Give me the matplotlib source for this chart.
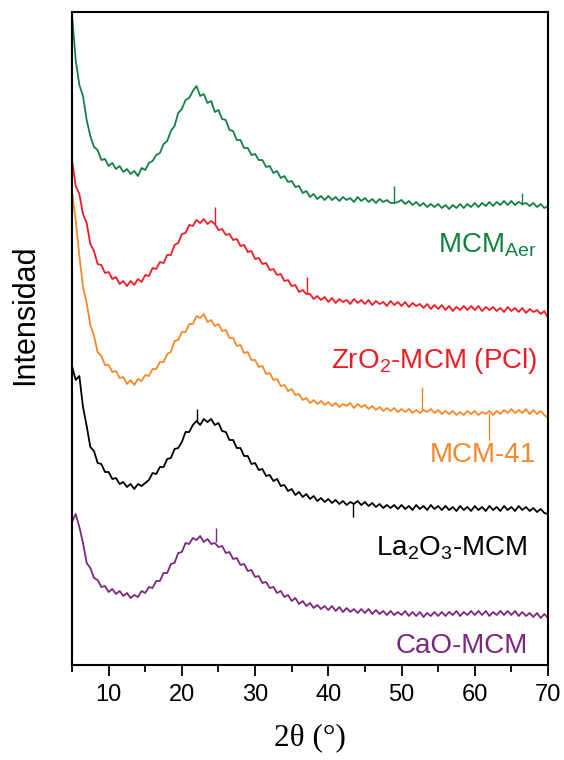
import numpy as np
from matplotlib import pyplot as plt

plt.rcParams['font.family'] = ['Liberation Sans', 'DejaVu Sans']
plt.rcParams['mathtext.fontset'] = 'custom'
plt.rcParams['mathtext.rm'] = 'Liberation Sans'

# 2theta grid, 0.5 deg steps from 5 to 70
twoTheta = np.arange(5, 70.01, 0.5)

# intensities (arbitrary units, curves already stacked)
mcmAer = [651, 605, 580, 569, 545, 529, 518, 515, 505, 506,
          499, 502, 496, 499, 493, 496, 491, 494, 489, 497,
          495, 502, 504, 510, 512, 521, 524, 534, 539, 552,
          556, 565, 567, 574, 579, 569, 571, 562, 564, 553,
          555, 546, 545, 535, 534, 525, 525, 517, 517, 510,
          511, 505, 505, 498, 499, 492, 494, 487, 489, 483,
          484, 478, 479, 472, 474, 468, 471, 466, 469, 465,
          469, 465, 468, 464, 468, 465, 467, 463, 468, 464,
          467, 463, 466, 462, 466, 463, 465, 462, 462, 463,
          465, 461, 464, 460, 463, 459, 462, 458, 461, 458,
          461, 457, 460, 456, 460, 457, 461, 457, 461, 458,
          462, 458, 462, 459, 463, 459, 463, 460, 464, 460,
          464, 460, 463, 461, 462, 459, 462, 458, 461, 457,
          459]

zrMcm = [505, 479, 471, 451, 442, 421, 414, 401, 400, 392,
         393, 386, 388, 381, 384, 379, 384, 380, 386, 383,
         390, 389, 397, 396, 403, 402, 410, 410, 420, 422,
         431, 432, 440, 439, 445, 442, 446, 441, 444, 441,
         435, 436, 430, 431, 425, 426, 419, 420, 413, 414,
         406, 407, 401, 402, 395, 396, 390, 391, 384, 385,
         379, 380, 373, 375, 371, 371, 366, 369, 365, 368,
         363, 367, 362, 366, 363, 365, 361, 366, 362, 365,
         361, 365, 360, 364, 361, 363, 359, 364, 360, 363,
         359, 363, 358, 362, 359, 361, 357, 361, 356, 360,
         356, 360, 355, 359, 354, 358, 355, 359, 355, 359,
         355, 359, 354, 358, 355, 358, 354, 357, 353, 358,
         354, 357, 353, 357, 352, 356, 353, 355, 351, 354,
         347]

mcm41 = [473, 445, 409, 378, 362, 340, 329, 313, 309, 300,
         300, 293, 294, 287, 288, 281, 285, 280, 286, 284,
         290, 289, 296, 296, 303, 303, 311, 313, 324, 325,
         333, 333, 341, 341, 349, 347, 351, 343, 345, 339,
         341, 334, 335, 327, 327, 319, 320, 312, 313, 305,
         305, 298, 299, 291, 292, 285, 286, 279, 280, 274,
         276, 270, 271, 265, 267, 262, 265, 261, 264, 260,
         263, 259, 262, 258, 261, 259, 262, 257, 261, 258,
         260, 256, 259, 255, 258, 254, 257, 254, 257, 253,
         256, 253, 256, 252, 255, 252, 255, 253, 256, 252,
         255, 251, 254, 251, 254, 250, 253, 250, 254, 251,
         254, 250, 253, 251, 254, 250, 254, 251, 255, 252,
         256, 252, 255, 252, 256, 251, 255, 251, 254, 250,
         247]

laMcm = [299, 285, 289, 258, 239, 218, 214, 202, 201, 193,
         193, 186, 187, 181, 183, 178, 181, 176, 181, 179,
         182, 185, 192, 191, 198, 198, 206, 207, 216, 217,
         223, 233, 233, 240, 244, 240, 246, 243, 246, 240,
         242, 234, 233, 225, 225, 217, 217, 209, 209, 201,
         202, 195, 196, 189, 190, 184, 186, 179, 180, 174,
         176, 170, 173, 168, 171, 166, 169, 164, 167, 163,
         166, 162, 165, 161, 164, 160, 163, 161, 164, 160,
         163, 159, 162, 158, 161, 157, 160, 157, 160, 156,
         160, 156, 159, 155, 160, 156, 159, 155, 160, 156,
         159, 155, 159, 155, 158, 154, 159, 155, 158, 154,
         159, 155, 158, 154, 159, 155, 158, 154, 159, 155,
         158, 154, 159, 155, 158, 154, 157, 153, 156, 152,
         151]

caoMcm = [143, 151, 138, 122, 102, 97, 87, 85, 78, 79,
          73, 76, 71, 74, 69, 72, 67, 70, 68, 74,
          72, 78, 77, 84, 84, 92, 92, 101, 102, 112,
          113, 122, 121, 127, 125, 129, 123, 126, 121, 122,
          118, 119, 112, 113, 106, 107, 100, 101, 94, 95,
          88, 89, 82, 83, 77, 78, 72, 74, 68, 70,
          64, 67, 61, 64, 59, 62, 57, 60, 56, 59,
          55, 59, 54, 58, 53, 57, 53, 56, 52, 56,
          52, 56, 51, 55, 51, 54, 50, 54, 50, 53,
          50, 54, 49, 53, 49, 53, 48, 52, 49, 53,
          49, 53, 49, 53, 50, 54, 49, 53, 50, 54,
          50, 54, 50, 54, 49, 53, 50, 54, 50, 54,
          50, 54, 49, 53, 49, 52, 48, 52, 47, 51,
          47]

# single-channel spikes: which curve, position, from, to
spikeCurve = [0, 0, 1, 1, 2, 2, 3, 3, 4]
spikeTheta = [49.0, 66.5, 24.5, 37.1, 52.8, 62.0, 22.0, 43.4, 24.7]
spikeFrom = [463, 460, 441, 372, 255, 252, 243, 162, 123]
spikeTo = [479, 472, 458, 388, 278, 225, 256, 148, 137]

series = [mcmAer, zrMcm, mcm41, laMcm, caoMcm]
colors = ['#138043', '#ee1c25', '#f7882a', '#000000', '#7b2680']
labels = [r'MCM$_{\mathregular{Aer}}$', r'ZrO$_{\mathregular{2}}$-MCM (PCl)', 'MCM-41',
          r'La$_{\mathregular{2}}$O$_{\mathregular{3}}$-MCM', 'CaO-MCM']
labelPos = [(68.5, 413), (68.5, 297), (68.3, 203), (67.2, 110), (67.3, 12)]

fig = plt.figure(figsize=(5.64, 7.60), dpi=100)
ax = fig.add_axes([0.1277, 0.125, 0.8439, 0.8592])

for vals, col in zip(series, colors):
    assert len(vals) == len(twoTheta)
    ax.plot(twoTheta, vals, color=col, lw=1.3)

for c, t, y0, y1 in zip(spikeCurve, spikeTheta, spikeFrom, spikeTo):
    ax.vlines(t, y0, y1, color=colors[c], lw=1.0)

for lab, (xt, yt), col in zip(labels, labelPos, colors):
    ax.text(xt, yt, lab, color=col, fontsize=20, ha='right', va='baseline')

ax.set_xlim(5, 70)
ax.set_ylim(0, 653)
ax.set_xticks([10, 20, 30, 40, 50, 60, 70])
ax.set_xticks([5, 15, 25, 35, 45, 55, 65], minor=True)
ax.set_yticks([])
ax.tick_params(axis='x', which='major', direction='out', length=8, width=1.3, labelsize=17, pad=6)
ax.tick_params(axis='x', which='minor', direction='out', length=5, width=1.3)
for sp in ax.spines.values():
    sp.set_linewidth(1.5)

ax.set_xlabel('2θ (°)', fontsize=22.5, family='Liberation Serif', labelpad=12)
ax.set_ylabel('Intensidad', fontsize=22)
ax.yaxis.set_label_coords(-0.068, 0.537)

plt.savefig('out.png', dpi=100)
